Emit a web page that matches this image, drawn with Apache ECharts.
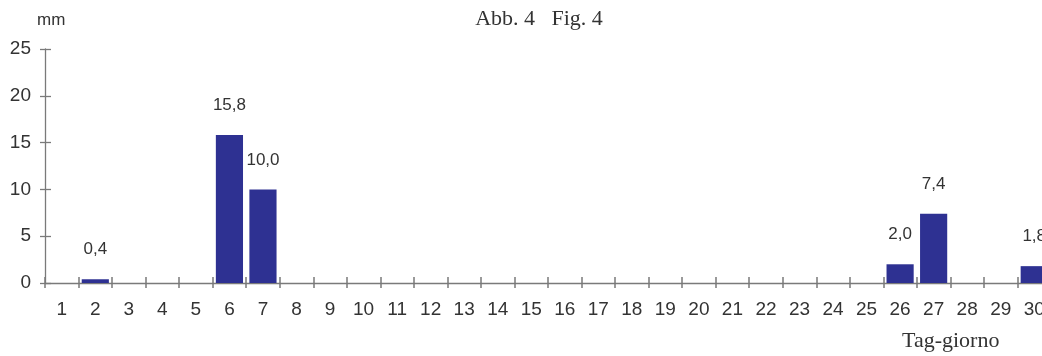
<!DOCTYPE html>
<html>
<head>
<meta charset="utf-8">
<script src="https://cdn.jsdelivr.net/npm/echarts@6/dist/echarts.min.js"></script>
<style>
  html, body { margin: 0; padding: 0; background: #fff; }
  #chart { width: 1042px; height: 356px; }
</style>
</head>
<body>
<div id="chart"></div>
<script>
// giorni del mese
var days = ['1','2','3','4','5','6','7','8','9','10','11','12','13','14','15',
            '16','17','18','19','20','21','22','23','24','25','26','27','28','29','30'];
// precipitazioni in mm (null = nessuna pioggia)
var rain = [null, 0.4, null, null, null, 15.8, 10.0, null, null, null,
            null, null, null, null, null, null, null, null, null, null,
            null, null, null, null, null, 2.0, 7.4, null, null, 1.8];
var yTicks = [0, 5, 10, 15, 20, 25];

var chart = echarts.init(document.getElementById('chart'));
var axisColor = '#7a7a7a';
var textColor = '#333333';

chart.setOption({
    animation: false,
    title: {
        text: 'Abb. 4   Fig. 4',
        left: 534,
        top: 3,
        textAlign: 'center',
        textStyle: { fontFamily: 'Liberation Serif', fontSize: 22, fontWeight: 'normal', color: textColor }
    },
    graphic: [
        { type: 'text', left: 37, top: 12, style: { text: 'mm', font: '17px "Liberation Sans"', fill: textColor } },
        { type: 'text', left: 902, top: 330, style: { text: 'Tag-giorno', font: '22px "Liberation Serif"', fill: textColor } }
    ],
    grid: { left: 45, width: 1006, top: 49, bottom: 73, outerBoundsMode: 'none', containLabel: false },
    xAxis: [{
        type: 'category',
        data: days,
        position: 'bottom',
        axisLine: { lineStyle: { color: axisColor, width: 1.3 } },
        axisTick: { show: true, interval: 0, alignWithLabel: false, length: 5, lineStyle: { color: axisColor, width: 1.5 } },
        axisLabel: { color: textColor, fontFamily: 'Liberation Sans', fontSize: 19, margin: 17, interval: 0 }
    }, {
        type: 'category',
        data: days,
        position: 'bottom',
        axisLine: { show: false },
        axisTick: { show: true, interval: 0, inside: true, length: 6, lineStyle: { color: axisColor, width: 1.5 } },
        axisLabel: { show: false }
    }],
    yAxis: [{
        type: 'value',
        min: yTicks[0],
        max: yTicks[yTicks.length - 1],
        interval: 5,
        axisLine: { show: true, lineStyle: { color: axisColor, width: 1.3 } },
        axisTick: { show: true, length: 5, lineStyle: { color: axisColor, width: 1.3 } },
        splitLine: { show: false },
        axisLabel: { color: textColor, fontFamily: 'Liberation Sans', fontSize: 19, margin: 14 }
    }, {
        type: 'value',
        position: 'left',
        min: yTicks[0],
        max: yTicks[yTicks.length - 1],
        interval: 5,
        axisLine: { show: false },
        axisTick: { show: true, inside: true, length: 6, lineStyle: { color: axisColor, width: 1.3 } },
        splitLine: { show: false },
        axisLabel: { show: false }
    }],
    series: [{
        type: 'bar',
        data: rain,
        xAxisIndex: 0,
        yAxisIndex: 0,
        barCategoryGap: '19%',
        itemStyle: { color: '#2e3192' },
        label: {
            show: true,
            position: 'top',
            distance: 21,
            color: textColor,
            fontFamily: 'Liberation Sans',
            fontSize: 17,
            formatter: function (p) {
                return p.value == null ? '' : p.value.toFixed(1).replace('.', ',');
            }
        }
    }]
});
</script>
</body>
</html>
